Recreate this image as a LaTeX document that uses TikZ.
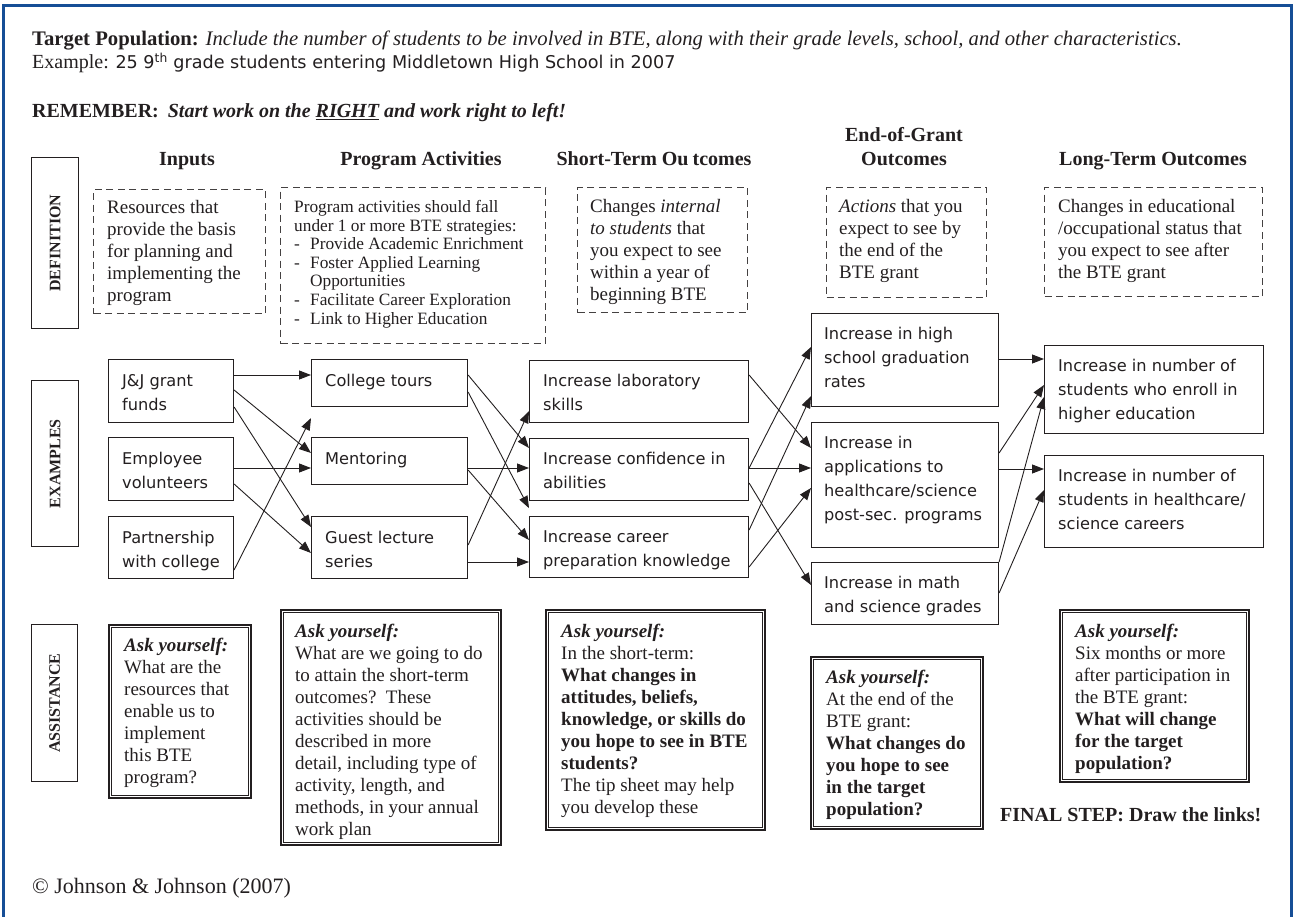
\documentclass[tikz,border=0pt]{standalone}
\usepackage{fontspec}
\setmainfont{Liberation Serif}
\newfontfamily\comic{DejaVu Sans}
\usetikzlibrary{arrows.meta,calc}
\definecolor{ink}{RGB}{35,31,32}
\definecolor{frameblue}{RGB}{22,78,150}
\newcommand\mlines[1]{\vtop{\let\\\cr\halign{##\hfil\cr#1\crcr}}}
\begin{document}
\begin{tikzpicture}[x=1pt,y=-1pt,
  sidebox/.style={draw=ink,line width=1.2pt,anchor=north west,inner sep=0pt},
  sidelbl/.style={rotate=90,font={\fontsize{16}{18}\selectfont\bfseries},text=ink,inner sep=0pt},
  defbox/.style={draw=ink!85,line width=1.2pt,dash pattern=on 7pt off 4.5pt,anchor=north west,inner sep=0pt},
  ebox/.style={draw=ink,line width=1.1pt,anchor=north west,inner sep=0pt},
  abox/.style={draw=ink,line width=1.8pt,anchor=north west,inner sep=0pt},
  txt/.style={anchor=base west,inner sep=0pt,text=ink,font={\fontsize{19}{22}\selectfont}},
  smalltxt/.style={anchor=base west,inner sep=0pt,text=ink,font={\fontsize{17.3}{18.6}\selectfont}},
  etxt/.style={anchor=base west,inner sep=0pt,text=ink,font={\comic\fontsize{16.2}{24}\selectfont}},
  head/.style={anchor=base,inner sep=0pt,text=ink,font={\fontsize{20}{24}\selectfont\bfseries}},
  arr/.style={draw=ink,line width=0.9pt,-{Triangle[length=12pt,width=9pt]}}
]
\useasboundingbox (0,0) rectangle (1295,917);
\fill[white] (0,0) rectangle (1295,917);
\draw[frameblue,line width=3pt] (3.5,917) -- (3.5,6) -- (1291.5,6) -- (1291.5,917);

% header text
\node[anchor=base west,inner sep=0pt,text=ink,font={\fontsize{20.7}{24}\selectfont}] (tp) at (32,46)
  {\textbf{Target Population:} \textit{Include the number of students to be involved in BTE, along with their grade levels, school, and other characteristics.}};
\node[anchor=base west,inner sep=0pt,text=ink,font={\fontsize{20}{24}\selectfont}] (ex) at (32,69)
  {Example: {\comic\fontsize{17.6}{20}\selectfont 25 9\textsuperscript{th} grade students entering Middletown High School in 2007}};
\node[anchor=base west,inner sep=0pt,text=ink,font={\fontsize{20}{24}\selectfont\bfseries}] (rem) at (32,118)
  {REMEMBER:\hspace{9pt}\textit{Start work on the \underline{RIGHT} and work right to left!}};

% column headings
\node[head] (hIn) at (187,166) {Inputs};
\node[head] (hPr) at (421,166) {Program Activities};
\node[head] (hSt) at (654,166) {Short-Term Ou\hspace{4pt}tcomes};
\node[head] (hEg1) at (904,142) {End-of-Grant};
\node[head] (hEg2) at (904,166) {Outcomes};
\node[head] (hLt) at (1153,166) {Long-Term Outcomes};

% side labels
\node[sidebox,minimum width=47pt,minimum height=171pt] (sDef) at (31,157) {};
\node[sidelbl] (sDefT) at (sDef.center) {DEFINITION};
\node[sidebox,minimum width=47pt,minimum height=166pt] (sEx) at (31,380) {};
\node[sidelbl] (sExT) at (sEx.center) {EXAMPLES};
\node[sidebox,minimum width=46pt,minimum height=157pt] (sAs) at (31,624) {};
\node[sidelbl] (sAsT) at (sAs.center) {ASSISTANCE};

% definition boxes
\node[defbox,minimum width=172pt,minimum height=124pt] (dIn) at (93,189) {};
\node[txt] (dInT) at (107,214) {\mlines{Resources that\\provide the basis\\for planning and\\implementing the\\program}};
\node[defbox,minimum width=265pt,minimum height=156pt] (dPr) at (280,187) {};
\node[smalltxt] (dPrT) at (294,212.5) {\mlines{Program activities should fall\\under 1 or more BTE strategies:\\
\makebox[16pt][l]{-}Provide Academic Enrichment\\
\makebox[16pt][l]{-}Foster Applied Learning\\
\hspace*{16pt}Opportunities\\
\makebox[16pt][l]{-}Facilitate Career Exploration\\
\makebox[16pt][l]{-}Link to Higher Education}};
\node[defbox,minimum width=170pt,minimum height=125pt] (dSt) at (577,187) {};
\node[txt] (dStT) at (590,213) {\mlines{Changes \textit{internal}\\\textit{to students} that\\you expect to see\\within a year of\\beginning BTE}};
\node[defbox,minimum width=160pt,minimum height=110pt] (dEg) at (826,187) {};
\node[txt] (dEgT) at (839,213) {\mlines{\textit{Actions} that you\\expect to see by\\the end of the\\BTE grant}};
\node[defbox,minimum width=218pt,minimum height=109pt] (dLt) at (1044,187) {};
\node[txt] (dLtT) at (1058,213) {\mlines{Changes in educational\\/occupational status that\\you expect to see after\\the BTE grant}};

% example boxes
\node[ebox,minimum width=125pt,minimum height=63pt] (jj) at (108,359) {};
\node[etxt] (jjT) at ($(jj.north west)+(14,27)$) {\mlines{J\&J grant\\funds}};
\node[ebox,minimum width=125pt,minimum height=63pt] (emp) at (108,437) {};
\node[etxt] (empT) at ($(emp.north west)+(14,27)$) {\mlines{Employee\\volunteers}};
\node[ebox,minimum width=125pt,minimum height=62pt] (part) at (108,516) {};
\node[etxt] (partT) at ($(part.north west)+(14,27)$) {\mlines{Partnership\\with college}};

\node[ebox,minimum width=156pt,minimum height=47pt] (tours) at (311,359) {};
\node[etxt] (toursT) at ($(tours.north west)+(14,27)$) {College tours};
\node[ebox,minimum width=156pt,minimum height=47pt] (ment) at (311,437) {};
\node[etxt] (mentT) at ($(ment.north west)+(14,27)$) {Mentoring};
\node[ebox,minimum width=156pt,minimum height=62pt] (guest) at (311,516) {};
\node[etxt] (guestT) at ($(guest.north west)+(14,27)$) {\mlines{Guest lecture\\series}};

\node[ebox,minimum width=219pt,minimum height=62pt] (lab) at (529,360) {};
\node[etxt] (labT) at ($(lab.north west)+(14,26)$) {\mlines{Increase laboratory\\skills}};
\node[ebox,minimum width=219pt,minimum height=62pt] (conf) at (529,438) {};
\node[etxt] (confT) at ($(conf.north west)+(14,26)$) {\mlines{Increase confidence in\\abilities}};
\node[ebox,minimum width=219pt,minimum height=61pt] (career) at (529,516) {};
\node[etxt] (careerT) at ($(career.north west)+(14,26)$) {\mlines{Increase career\\preparation knowledge}};

\node[ebox,minimum width=187pt,minimum height=93pt] (grad) at (811,313) {};
\node[etxt] (gradT) at ($(grad.north west)+(13,26)$) {\mlines{Increase in high\\school graduation\\rates}};
\node[ebox,minimum width=187pt,minimum height=125pt] (appl) at (811,422) {};
\node[etxt] (applT) at ($(appl.north west)+(13,26)$) {\mlines{Increase in\\applications to\\healthcare/science\\post-sec. programs}};
\node[ebox,minimum width=187pt,minimum height=62pt] (math) at (811,562) {};
\node[etxt] (mathT) at ($(math.north west)+(13,26)$) {\mlines{Increase in math\\and science grades}};

\node[ebox,minimum width=219pt,minimum height=88pt] (enroll) at (1044,345) {};
\node[etxt] (enrollT) at ($(enroll.north west)+(14,26)$) {\mlines{Increase in number of\\students who enroll in\\higher education}};
\node[ebox,minimum width=219pt,minimum height=92pt] (careers) at (1044,455) {};
\node[etxt] (careersT) at ($(careers.north west)+(14,26)$) {\mlines{Increase in number of\\students in healthcare/\\science careers}};

% free arrow ends
\coordinate (gapA) at ($(tours.south west)+(0,11)$);
\coordinate (gapB) at ($(conf.south west)+(0,7)$);

% arrows: inputs -> activities
\draw[arr] ($(jj.north east)+(0,16)$) -- ($(tours.north west)+(0,16)$);
\draw[arr] ($(jj.north east)+(0,31)$) -- ($(ment.north west)+(0,16)$);
\draw[arr] ($(jj.north east)+(0,48)$) -- ($(guest.north west)+(0,11)$);
\draw[arr] ($(emp.north east)+(0,31)$) -- ($(ment.north west)+(0,31)$);
\draw[arr] ($(emp.north east)+(0,47)$) -- ($(guest.north west)+(0,37)$);
\draw[arr] ($(part.north east)+(0,54)$) -- (gapA);
% activities -> short-term
\draw[arr] ($(tours.north east)+(0,16)$) -- ($(conf.north west)+(0,10)$);
\draw[arr] ($(tours.north east)+(0,33)$) -- (gapB);
\draw[arr] ($(ment.north east)+(0,31)$) -- ($(conf.north west)+(0,30)$);
\draw[arr] ($(ment.north east)+(0,33)$) -- ($(career.north west)+(0,24)$);
\draw[arr] ($(guest.north east)+(0,29)$) -- ($(lab.south west)+(0,-12)$);
\draw[arr] ($(guest.north east)+(0,46)$) -- ($(career.north west)+(0,46)$);
% short-term -> end-of-grant
\draw[arr] ($(lab.north east)+(0,15)$) -- ($(appl.north west)+(0,26)$);
\draw[arr] ($(conf.north east)+(0,30)$) -- ($(grad.north west)+(0,34)$);
\draw[arr] ($(conf.north east)+(0,30)$) -- ($(appl.north west)+(0,46)$);
\draw[arr] ($(conf.north east)+(0,45)$) -- ($(math.north west)+(0,23)$);
\draw[arr] ($(career.north east)+(0,14)$) -- ($(grad.south west)+(0,-11)$);
\draw[arr] ($(career.north east)+(0,51)$) -- ($(appl.north west)+(0,66)$);
% end-of-grant -> long-term
\draw[arr] ($(grad.north east)+(0,46)$) -- ($(enroll.north west)+(0,14)$);
\draw[arr] ($(appl.north east)+(0,31)$) -- ($(enroll.north west)+(0,40)$);
\draw[arr] ($(appl.north east)+(0,47)$) -- ($(careers.north west)+(0,14)$);
\draw[arr] (math.north east) -- ($(enroll.north west)+(0,52)$);
\draw[arr] ($(math.north east)+(0,31)$) -- ($(careers.north west)+(0,35)$);

% assistance boxes
\node[abox,minimum width=142pt,minimum height=173pt] (aIn) at (108,624) {};
\draw[ink,line width=0.8pt] ($(aIn.north west)+(3.5,3.5)$) rectangle ($(aIn.south east)+(-3.5,-3.5)$);
\node[txt] (aInT) at (124,651) {\mlines{\textbf{\textit{Ask yourself:}}\\What are the\\resources that\\enable us to\\implement\\this BTE\\program?}};

\node[abox,minimum width=220pt,minimum height=235pt] (aPr) at (280,609) {};
\draw[ink,line width=0.8pt] ($(aPr.north west)+(3.5,3.5)$) rectangle ($(aPr.south east)+(-3.5,-3.5)$);
\node[txt] (aPrT) at (295,637) {\mlines{\textbf{\textit{Ask yourself:}}\\What are we going to do\\to attain the short-term\\outcomes?\ \ These\\activities should be\\described in more\\detail, including type of\\activity, length, and\\methods, in your annual\\work plan}};

\node[abox,minimum width=219pt,minimum height=220pt] (aSt) at (545,609) {};
\draw[ink,line width=0.8pt] ($(aSt.north west)+(3.5,3.5)$) rectangle ($(aSt.south east)+(-3.5,-3.5)$);
\node[txt] (aStT) at (561,637) {\mlines{\textbf{\textit{Ask yourself:}}\\In the short-term:\\\textbf{What changes in}\\\textbf{attitudes, beliefs,}\\\textbf{knowledge, or skills do}\\\textbf{you hope to see in BTE}\\\textbf{students?}\\The tip sheet may help\\you develop these}};

\node[abox,minimum width=172pt,minimum height=172pt] (aEg) at (810,656) {};
\draw[ink,line width=0.8pt] ($(aEg.north west)+(3.5,3.5)$) rectangle ($(aEg.south east)+(-3.5,-3.5)$);
\node[txt] (aEgT) at (826,683) {\mlines{\textbf{\textit{Ask yourself:}}\\At the end of the\\BTE grant:\\\textbf{What changes do}\\\textbf{you hope to see}\\\textbf{in the target}\\\textbf{population?}}};

\node[abox,minimum width=189pt,minimum height=172pt] (aLt) at (1059,609) {};
\draw[ink,line width=0.8pt] ($(aLt.north west)+(3.5,3.5)$) rectangle ($(aLt.south east)+(-3.5,-3.5)$);
\node[txt] (aLtT) at (1075,637) {\mlines{\textbf{\textit{Ask yourself:}}\\Six months or more\\after participation in\\the BTE grant:\\\textbf{What will change}\\\textbf{for the target}\\\textbf{population?}}};

% footer
\node[anchor=base west,inner sep=0pt,text=ink,font={\fontsize{20}{24}\selectfont\bfseries}] (fin) at (1000,821) {FINAL STEP: Draw the links!};
\node[anchor=base west,inner sep=0pt,text=ink,font={\fontsize{22}{26}\selectfont}] (copy) at (32,893) {\textcopyright{} Johnson \& Johnson (2007)};
\end{tikzpicture}
\end{document}
